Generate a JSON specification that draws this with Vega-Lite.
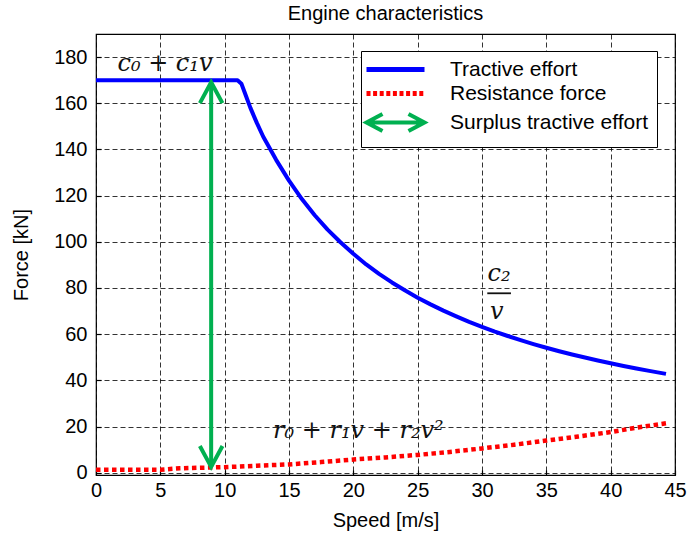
{
  "$schema": "https://vega.github.io/schema/vega-lite/v6.json",
  "width": 579,
  "height": 441,
  "autosize": {"type": "none"},
  "padding": {"left": 96, "top": 34, "right": 14, "bottom": 65},
  "background": "white",
  "title": {"text": "Engine characteristics", "font": "Liberation Sans", "fontSize": 20, "fontWeight": "normal", "color": "#000", "baseline": "bottom", "offset": 8, "frame": "group", "anchor": "middle", "dy": 18},
  "config": {
    "font": "Liberation Sans",
    "view": {"stroke": "#000", "strokeWidth": 1.2},
    "axis": {
      "grid": true, "gridColor": "#000", "gridDash": [5, 3], "gridWidth": 1, "gridOpacity": 0.8,
      "domain": false, "ticks": true, "tickColor": "#000", "tickSize": -5, "tickWidth": 1.2,
      "labelFont": "Liberation Sans", "labelFontSize": 20, "labelColor": "#000",
      "titleFont": "Liberation Sans", "titleFontSize": 20, "titleFontWeight": "normal", "titleColor": "#000",
      "labelFlush": false, "labelOverlap": false
    },
    "axisX": {"labelPadding": 10, "titlePadding": 10},
    "axisY": {"labelPadding": 14, "titlePadding": 22}
  },
  "datasets": {
    "tractive": [
      {"v": 0, "F": 170}, {"v": 11.0, "F": 170}, {"v": 11.3, "F": 168.5}, {"v": 11.6, "F": 164},
      {"v": 12, "F": 158}, {"v": 12.5, "F": 151.5}, {"v": 13, "F": 145.5}, {"v": 14, "F": 135.5},
      {"v": 15, "F": 126.5}, {"v": 16, "F": 118.5}, {"v": 17, "F": 111.5}, {"v": 18, "F": 105.3},
      {"v": 19, "F": 99.8}, {"v": 20, "F": 94.8}, {"v": 21, "F": 90.2}, {"v": 22, "F": 86.1},
      {"v": 23, "F": 82.4}, {"v": 24, "F": 79}, {"v": 25, "F": 75.8}, {"v": 26, "F": 72.9},
      {"v": 27, "F": 70.2}, {"v": 28, "F": 67.7}, {"v": 29, "F": 65.3}, {"v": 30, "F": 63.2},
      {"v": 31, "F": 61.1}, {"v": 32, "F": 59.2}, {"v": 33, "F": 57.4}, {"v": 34, "F": 55.7},
      {"v": 35, "F": 54.1}, {"v": 36, "F": 52.6}, {"v": 37, "F": 51.2}, {"v": 38, "F": 49.9},
      {"v": 39, "F": 48.6}, {"v": 40, "F": 47.4}, {"v": 41, "F": 46.2}, {"v": 42, "F": 45.1},
      {"v": 43, "F": 44.1}, {"v": 44.3, "F": 42.8}
    ],
    "resistance": [
      {"v": 0, "F": 1.3}, {"v": 2.5, "F": 1.3}, {"v": 5, "F": 1.3}, {"v": 6.5, "F": 1.9},
      {"v": 10, "F": 2.4}, {"v": 12.5, "F": 3.0}, {"v": 15, "F": 3.6}, {"v": 17.5, "F": 4.6},
      {"v": 20, "F": 5.7}, {"v": 22.5, "F": 6.6}, {"v": 25, "F": 7.7}, {"v": 27.5, "F": 9.0},
      {"v": 30, "F": 10.5}, {"v": 32.5, "F": 12.1}, {"v": 35, "F": 13.9}, {"v": 37.5, "F": 15.7},
      {"v": 40, "F": 17.6}, {"v": 42, "F": 19.5}, {"v": 44.3, "F": 21.4}
    ],
    "arrow": [{"v": 8.95, "top": 169.1, "bottom": 2.5}],
    "notes": [
      {"v": 5.36, "F": 174, "label": "c₀ + c₁v"},
      {"v": 20.39, "F": 14.9, "label": "r₀ + r₁v + r₂v²"},
      {"v": 31.32, "F": 83.2, "label": "c₂"},
      {"v": 31.14, "F": 66.4, "label": "v"}
    ],
    "bar": [{"v": 30.41, "v2": 32.25, "F": 77.7}]
  },
  "layer": [
    {
      "data": {"name": "resistance"},
      "mark": {"type": "line", "strokeWidth": 4.5, "strokeDash": [4.5, 3.5], "strokeCap": "butt"},
      "encoding": {
        "x": {"field": "v", "type": "quantitative", "scale": {"domain": [0, 45], "nice": false, "zero": false},
              "axis": {"values": [0, 5, 10, 15, 20, 25, 30, 35, 40, 45], "title": "Speed [m/s]", "format": "d"}},
        "y": {"field": "F", "type": "quantitative", "scale": {"domain": [-1, 190], "nice": false, "zero": false},
              "axis": {"values": [0, 20, 40, 60, 80, 100, 120, 140, 160, 180], "title": "Force [kN]", "format": "d"}},
        "color": {
          "datum": "Resistance force",
          "scale": {"domain": ["Tractive effort", "Resistance force", "Surplus tractive effort"], "range": ["#0000FF", "#FF0000", "#00B050"]},
          "legend": {
            "orient": "none", "legendX": 265, "legendY": 17, "title": null, "padding": 8,
            "fillColor": "#ffffff", "strokeColor": "#000000",
            "labelFont": "Liberation Sans", "labelFontSize": 21, "labelColor": "#000", "labelLimit": 400,
            "symbolSize": 400, "symbolOffset": 16, "labelOffset": 44, "rowPadding": 2,
            "labelExpr": "datum.label + '      '",
            "encode": {
              "symbols": {
                "update": {
                  "shape": {"signal": "datum.value === 'Tractive effort' ? 'M-2.9,0H2.9' : datum.value === 'Resistance force' ? 'M-2.9,0h0.4M-2.24,0h0.4M-1.58,0h0.4M-0.92,0h0.4M-0.26,0h0.4M0.4,0h0.4M1.06,0h0.4M1.72,0h0.4M2.38,0h0.4' : 'M-2.9,0H2.9M-1.3,-0.85L-2.9,0L-1.3,0.85M1.3,-0.85L2.9,0L1.3,0.85'"},
                  "stroke": {"signal": "datum.value === 'Tractive effort' ? '#0070C0' : datum.value === 'Resistance force' ? '#FF0000' : '#00B050'"},
                  "strokeWidth": {"signal": "datum.value === 'Surplus tractive effort' ? 4 : 5"},
                  "fill": {"value": "transparent"},
                  "strokeDash": {"value": []},
                  "strokeCap": {"value": "butt"},
                  "opacity": {"value": 1}
                }
              }
            }
          }
        }
      }
    },
    {
      "data": {"name": "tractive"},
      "mark": {"type": "line", "strokeWidth": 4, "strokeJoin": "round"},
      "encoding": {
        "x": {"field": "v", "type": "quantitative"},
        "y": {"field": "F", "type": "quantitative"},
        "color": {"datum": "Tractive effort"}
      }
    },
    {
      "data": {"name": "arrow"},
      "mark": {"type": "rule", "strokeWidth": 4},
      "encoding": {
        "x": {"field": "v", "type": "quantitative"},
        "y": {"field": "bottom", "type": "quantitative"},
        "y2": {"field": "top"},
        "color": {"datum": "Surplus tractive effort"}
      }
    },
    {
      "data": {"name": "arrow"},
      "mark": {"type": "point", "shape": "M-1,1.85L0,0L1,1.85", "filled": false, "stroke": "#00B050", "strokeWidth": 4, "size": 511, "opacity": 1},
      "encoding": {
        "x": {"field": "v", "type": "quantitative"},
        "y": {"field": "top", "type": "quantitative"}
      }
    },
    {
      "data": {"name": "arrow"},
      "mark": {"type": "point", "shape": "M-1,-1.85L0,0L1,-1.85", "filled": false, "stroke": "#00B050", "strokeWidth": 4, "size": 511, "opacity": 1},
      "encoding": {
        "x": {"field": "v", "type": "quantitative"},
        "y": {"field": "bottom", "type": "quantitative"}
      }
    },
    {
      "data": {"name": "notes"},
      "mark": {"type": "text", "font": "DejaVu Serif", "fontStyle": "italic", "fontSize": 24, "align": "center", "baseline": "alphabetic", "color": "#111"},
      "encoding": {
        "x": {"field": "v", "type": "quantitative"},
        "y": {"field": "F", "type": "quantitative"},
        "text": {"field": "label"}
      }
    },
    {
      "data": {"name": "bar"},
      "mark": {"type": "rule", "strokeWidth": 1.8, "color": "#111"},
      "encoding": {
        "x": {"field": "v", "type": "quantitative"},
        "x2": {"field": "v2"},
        "y": {"field": "F", "type": "quantitative"}
      }
    }
  ]
}
